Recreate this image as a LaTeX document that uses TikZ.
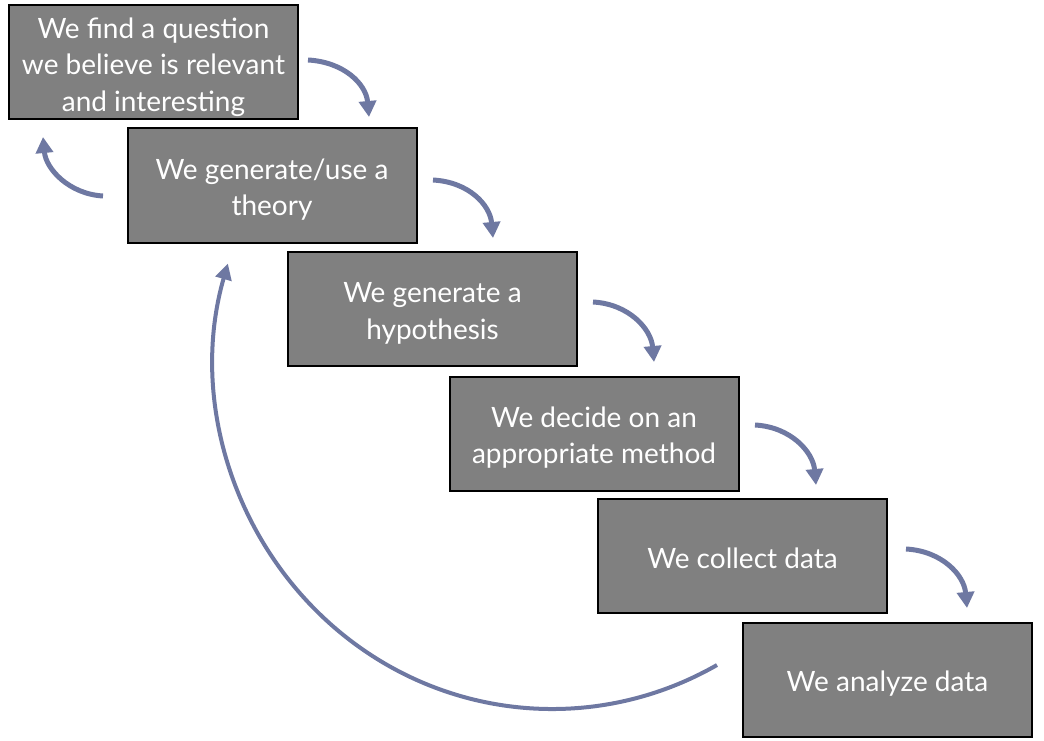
\documentclass[tikz,border=0pt]{standalone}
\usepackage{fontspec}
\setmainfont{Lato}
\usetikzlibrary{arrows.meta,calc}
\definecolor{boxgray}{HTML}{808080}
\definecolor{arrowblue}{HTML}{6E78A2}
\newcommand\boxlines[1]{\raisebox{-11pt}[0pt][0pt]{\begin{tabular}{@{}c@{}}#1\end{tabular}}}
\begin{document}
\begin{tikzpicture}[x=1pt,y=-1pt,
  stepbox/.style={rectangle, draw=black, line width=2pt, fill=boxgray,
    text=white, minimum width=289pt, minimum height=114pt,
    inner sep=0pt, font=\fontsize{28}{36.5}\selectfont},
  flow/.style={draw=arrowblue, line width=5pt, -{Triangle[width=17pt,length=16pt]}},
  loop/.style={draw=arrowblue, line width=4pt, -{Triangle[width=16pt,length=16pt]}}]
\useasboundingbox (0,0) rectangle (1044,741);
\node[stepbox] (b1) at (153.5,62.5) {\boxlines{We find a question\\we believe is relevant\\and interesting}};
\node[stepbox] (b2) at (272,185.5) {\boxlines{We generate/use a\\theory}};
\node[stepbox] (b3) at (432.5,309) {\boxlines{We generate a\\hypothesis}};
\node[stepbox] (b4) at (594,433.5) {\boxlines{We decide on an\\appropriate method}};
\node[stepbox] (b5) at (742.5,556) {\boxlines{We collect data}};
\node[stepbox] (b6) at (887.5,679.5) {\boxlines{We analyze data}};
% arrow anchors
\coordinate (s1) at (308,60);  \coordinate (e1) at (369,117);
\coordinate (s2) at (433,180); \coordinate (e2) at (493,238);
\coordinate (s3) at (593,302); \coordinate (e3) at (654,362);
\coordinate (s4) at (755,425); \coordinate (e4) at (816,485);
\coordinate (s5) at (906,549); \coordinate (e5) at (967,608);
\coordinate (sb) at (103,196); \coordinate (eb) at (43,137);
\coordinate (sl) at (717,665); \coordinate (ml) at (340.8,632.9); \coordinate (el) at (227.9,263.5);
\foreach \i in {1,...,5}{
  \draw[flow] (s\i) .. controls ($(s\i)+(36,2)$) and ($(e\i)+(-3,-33)$) .. (e\i);
}
\draw[flow] (sb) .. controls ($(sb)+(-34,-2)$) and ($(eb)+(3,32)$) .. (eb);
\draw[loop] (sl) .. controls (596.9,733.8) and (448.1,721.1) .. (ml)
   .. controls (233.5,544.7) and (188.9,398.8) .. (el);
\end{tikzpicture}
\end{document}
